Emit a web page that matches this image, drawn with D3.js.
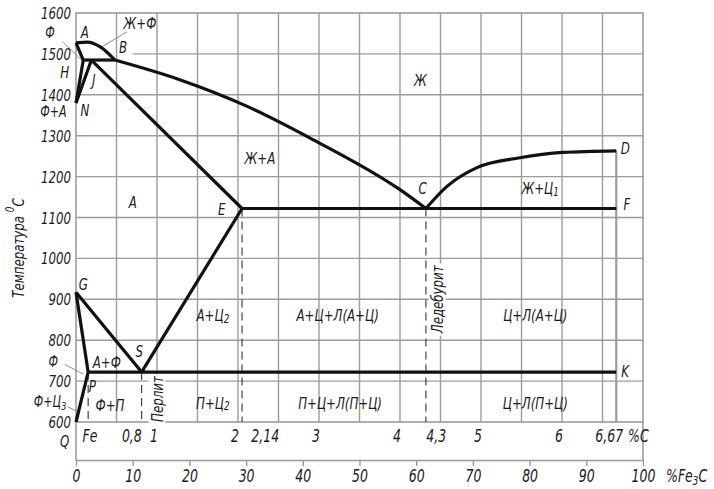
<!DOCTYPE html>
<html><head><meta charset="utf-8">
<script src="https://cdn.jsdelivr.net/npm/d3@7"></script>
<style>
html,body{margin:0;padding:0;background:#fff;}
svg text{font-family:"Liberation Sans Narrow","DejaVu Sans Condensed","Open Sans",sans-serif;font-style:italic;fill:#1a1a1a;}
</style></head>
<body>
<svg id="c" width="714" height="489"></svg>
<script>
// ---------- data (carbon %, temperature °C) ----------
const tempTicks = [600,700,800,900,1000,1100,1200,1300,1400,1500,1600];
const fe3cTicks = [0,10,20,30,40,50,60,70,80,90,100];
const carbonGrid = [0.5,1,1.5,2,2.5,3,3.5,4,4.5,5,5.5,6,6.5];
const carbonTickValues = [0.02,0.8,1,2,2.14,3,4,4.3,5,6,6.67];
const carbonTickLabels = ["Fe","0,8","1","2","2,14","3","4","4,3","5","6","6,67"];

const liquidusAB = [[0,1527],[0.14,1529],[0.3,1517],[0.42,1497],[0.48,1485]];
const liquidusBC = [[0.48,1485],[1.28,1437],[2.1,1373],[2.93,1290],[4.0,1168],[4.32,1122]];
const liquidusCD = [[4.32,1122],[4.58,1176],[4.95,1222],[5.48,1246],[6.01,1259],[6.67,1263]];
const solidusAH = [[0,1527],[0.09,1485]];
const lineHJB = [[0.09,1485],[0.48,1485]];
const lineNH = [[0,1380],[0.09,1485]];
const lineNJ = [[0,1380],[0.19,1485]];
const lineJE = [[0.19,1485],[2.05,1122]];
const lineECF = [[2.05,1122],[6.67,1122]];
const lineGS = [[0,917],[0.81,722]];
const lineGP = [[0,917],[0.15,722]];
const lineSE = [[0.81,722],[2.05,1122]];
const linePSK = [[0.15,722],[6.67,722]];
const linePQ = [[0.15,722],[0,600]];

const dashedAt = [[0.15,722],[0.81,722],[2.05,1122],[4.32,1122]];
const verticalD = [[6.67,1263],[6.67,600]];

const leaders = [
  [[-0.16,1529],[0.07,1485]],
  [[0.63,1554],[0.30,1515]],
  [[-0.14,741],[0.09,717]],
  [[-0.1,637],[0.05,622]]
];

const pointLabels = [
  {t:"A",c:0.11,T:1554},{t:"B",c:0.58,T:1517},{t:"H",c:-0.14,T:1456},
  {t:"J",c:0.22,T:1437},{t:"N",c:0.11,T:1363},{t:"E",c:1.80,T:1120},
  {t:"C",c:4.28,T:1173},{t:"D",c:6.78,T:1271},{t:"F",c:6.80,T:1132},
  {t:"G",c:0.09,T:937},{t:"S",c:0.78,T:773},{t:"P",c:0.20,T:688},
  {t:"K",c:6.78,T:724},{t:"Q",c:-0.14,T:554}
];
const regionLabels = [
  {t:"Ф",c:-0.32,T:1553},{t:"Ф+А",c:-0.28,T:1358},
  {t:"Ф",c:-0.28,T:749},{t:"Ф+Ц",s:"3",c:-0.32,T:649},
  {t:"Ж+Ф",c:0.79,T:1576},{t:"Ж",c:4.25,T:1437},{t:"Ж+А",c:2.27,T:1246},
  {t:"А",c:0.70,T:1139},{t:"Ж+Ц",s:"1",c:5.73,T:1173},
  {t:"А+Ц",s:"2",c:1.69,T:863},{t:"А+Ц+Л(А+Ц)",c:3.23,T:863},{t:"Ц+Л(А+Ц)",c:5.67,T:863},
  {t:"П+Ц",s:"2",c:1.69,T:649},{t:"П+Ц+Л(П+Ц)",c:3.26,T:649},{t:"Ц+Л(П+Ц)",c:5.67,T:649},
  {t:"Ф+П",c:0.42,T:644},{t:"А+Ф",c:0.38,T:749}
];
const verticalLabels = [{t:"Перлит",c:1.0,T:656},{t:"Ледебурит",c:4.46,T:900}];

// ---------- drawing ----------
const svg = d3.select("#c");
const x = d3.scaleLinear().domain([0,7]).range([76,643]);
const y = d3.scaleLinear().domain([600,1600]).range([422,13]);
const xFe = d3.scaleLinear().domain([0,100]).range([76,643]);
const line = d3.line().x(d=>x(d[0])).y(d=>y(d[1]));
const smooth = d3.line().x(d=>x(d[0])).y(d=>y(d[1])).curve(d3.curveMonotoneX);
const GRID = "#9c9c9c";
const SX = 0.82; // condensed look

function txt(px, py, opts={}){
  const rot = opts.rotate ? ` rotate(${opts.rotate})` : "";
  return svg.append("text")
    .attr("transform",`translate(${px},${py})${rot} scale(${opts.sx||SX},1)`)
    .attr("text-anchor",opts.anchor||"middle").attr("dominant-baseline","central")
    .attr("font-size",opts.size||16);
}

const g = svg.append("g");
g.selectAll("line.h").data(tempTicks.filter(t=>t>600&&t<1600)).join("line")
  .attr("x1",t=>t===1500?x(0.7):x(0)).attr("x2",x(7))
  .attr("y1",t=>y(t)).attr("y2",t=>y(t))
  .attr("stroke",GRID).attr("stroke-width",1.4);
g.selectAll("line.v").data(carbonGrid).join("line")
  .attr("x1",c=>x(c)).attr("x2",c=>x(c)).attr("y1",y(1600)).attr("y2",y(600))
  .attr("stroke",GRID).attr("stroke-width",1.4);
g.append("path").attr("d",line(verticalD)).attr("stroke",GRID).attr("stroke-width",2.2).attr("fill","none");
g.append("rect").attr("x",x(0)).attr("y",y(1600)).attr("width",x(7)-x(0)).attr("height",y(600)-y(1600))
  .attr("fill","none").attr("stroke",GRID).attr("stroke-width",1.6);
g.append("line").attr("x1",x(0)).attr("x2",x(0)).attr("y1",y(600)).attr("y2",460).attr("stroke",GRID).attr("stroke-width",1.6);
g.append("line").attr("x1",x(7)).attr("x2",x(7)).attr("y1",y(600)).attr("y2",460).attr("stroke",GRID).attr("stroke-width",1.6);

verticalLabels.forEach(d=>{
  const tr = `translate(${x(d.c)},${y(d.T)}) rotate(-90) scale(${SX},1)`;
  const bgr = svg.append("rect").attr("transform",tr).attr("fill","#fff");
  const tx = svg.append("text").attr("transform",tr)
    .attr("text-anchor","middle").attr("dominant-baseline","central").attr("font-size",16).text(d.t);
  const bb = tx.node().getBBox();
  bgr.attr("x",bb.x-2).attr("y",bb.y+1).attr("width",bb.width+4).attr("height",bb.height-2);
});

svg.selectAll("line.d").data(dashedAt).join("line")
  .attr("x1",d=>x(d[0])).attr("x2",d=>x(d[0])).attr("y1",d=>y(d[1])).attr("y2",y(600))
  .attr("stroke","#333").attr("stroke-width",1.1).attr("stroke-dasharray","8,5");

svg.selectAll("path.l").data(leaders).join("path").attr("d",d=>line(d))
  .attr("stroke","#8a8a8a").attr("stroke-width",1).attr("fill","none");

const thick = [solidusAH,lineHJB,lineNH,lineNJ,lineJE,lineECF,lineGS,lineGP,lineSE,linePSK,linePQ];
svg.selectAll("path.t").data(thick).join("path").attr("d",d=>line(d))
  .attr("stroke","#111").attr("stroke-width",3.2).attr("fill","none").attr("stroke-linejoin","round");
[liquidusAB,liquidusBC,liquidusCD].forEach(p=>{
  svg.append("path").attr("d",smooth(p)).attr("stroke","#111").attr("stroke-width",3.2).attr("fill","none");
});

tempTicks.forEach(t=>txt(71,y(t),{anchor:"end",size:16}).text(t));

pointLabels.forEach(d=>txt(x(d.c),y(d.T),{size:16}).text(d.t));

regionLabels.forEach(d=>{
  const outside = d.c < 0;
  const t = txt(x(d.c),y(d.T),{size:outside?15:16});
  t.append("tspan").text(d.t);
  if(d.s) t.append("tspan").attr("font-size",outside?11:12).attr("dy",4).text(d.s);
});

carbonTickValues.forEach((v,i)=>{
  const lab = carbonTickLabels[i];
  const start = (lab==="Fe"||lab==="2,14"||lab==="4,3");
  let px = x(v)+1;
  if(lab==="Fe") px = x(v)+5;
  else if(start) px = x(v)+2;
  else if(lab==="6,67") px = x(v)+7;
  txt(px,437,{anchor:start?"start":"end",size:17}).text(lab);
});
txt(x(7)-15,437,{anchor:"start",size:17}).text("%C");

const ax = svg.append("g").attr("transform","translate(0,460)")
  .call(d3.axisBottom(xFe).tickValues(fe3cTicks).tickSize(6).tickSizeOuter(0).tickFormat(d3.format("d")));
ax.select(".domain").attr("stroke",GRID).attr("stroke-width",1.6);
ax.selectAll(".tick line").attr("stroke",GRID).attr("stroke-width",1.4);
ax.selectAll(".tick text").attr("font-size",17).attr("fill","#1a1a1a").attr("y",10)
  .attr("transform",`scale(${SX},1)`)
  .style("font-family",'"Liberation Sans Narrow","DejaVu Sans Condensed","Open Sans",sans-serif').style("font-style","italic");
const fl = txt(666,477,{anchor:"start",size:17});
fl.append("tspan").text("%Fe");
fl.append("tspan").attr("font-size",12).attr("dy",4).text("3");
fl.append("tspan").attr("dy",-4).text("C");

const yt = txt(17,248,{rotate:-90,size:16});
yt.append("tspan").text("Температура ");
yt.append("tspan").attr("font-size",12).attr("dy",-7).text("0");
yt.append("tspan").attr("dy",7).text("C");
</script>
</body></html>
